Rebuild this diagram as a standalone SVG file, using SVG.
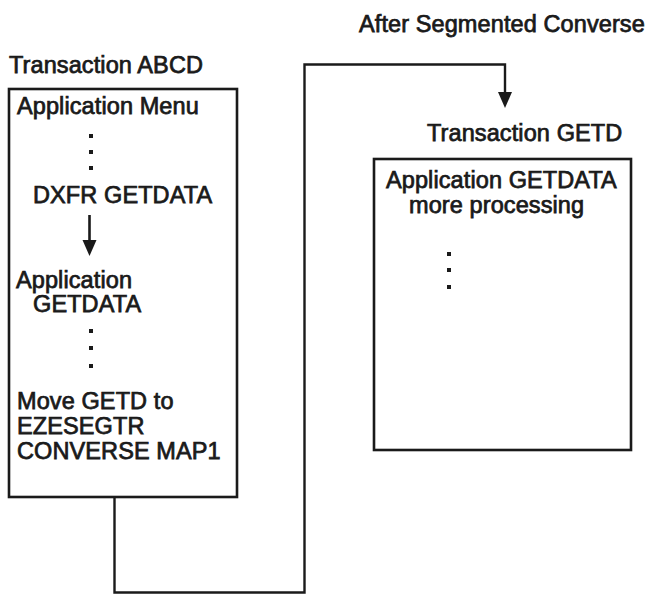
<svg xmlns="http://www.w3.org/2000/svg" width="651" height="595" viewBox="0 0 651 595">
  <style>
    .t { font-family: "Liberation Sans", Arial, sans-serif; font-size: 23.5px; fill: #1a1a1a; stroke: #1a1a1a; stroke-width: 0.75; letter-spacing: 0.1px; }
    .box { fill: none; stroke: #1a1a1a; stroke-width: 2.6; }
    .wire { fill: none; stroke: #1a1a1a; stroke-width: 2.4; }
    .dot { fill: #1a1a1a; }
  </style>

  <!-- caption over the second transaction -->
  <text class="t" x="359" y="32">After Segmented Converse</text>

  <!-- Transaction ABCD -->
  <g id="transaction-abcd">
    <text class="t" x="9" y="73">Transaction ABCD</text>
    <rect class="box" x="9" y="89" width="228" height="408"/>
    <text class="t" x="17" y="114">Application Menu</text>
    <rect class="dot" x="89" y="134" width="4" height="4"/>
    <rect class="dot" x="89" y="150" width="4" height="4"/>
    <rect class="dot" x="89" y="166" width="4" height="4"/>
    <text class="t" x="33" y="203">DXFR GETDATA</text>
    <path d="M89.5,215 L89.5,241" stroke="#1a1a1a" stroke-width="2.6" fill="none"/>
    <path d="M82.5,240 L96.5,240 L89.5,256 Z" fill="#1a1a1a"/>
    <text class="t" x="16" y="288">Application</text>
    <text class="t" x="33" y="312">GETDATA</text>
    <rect class="dot" x="89" y="329" width="4" height="4"/>
    <rect class="dot" x="89" y="346" width="4" height="4"/>
    <rect class="dot" x="89" y="364" width="4" height="4"/>
    <text class="t" x="17" y="409">Move GETD to</text>
    <text class="t" x="17" y="434">EZESEGTR</text>
    <text class="t" x="17" y="459">CONVERSE MAP1</text>
  </g>

  <!-- Transaction GETD -->
  <g id="transaction-getd">
    <text class="t" x="427" y="141">Transaction GETD</text>
    <rect class="box" x="374" y="159" width="257" height="291"/>
    <text class="t" x="386" y="188">Application GETDATA</text>
    <text class="t" x="409" y="213">more processing</text>
    <rect class="dot" x="447" y="252" width="4" height="4"/>
    <rect class="dot" x="447" y="268" width="4" height="4"/>
    <rect class="dot" x="447" y="285" width="4" height="4"/>
  </g>

  <!-- transfer path from ABCD to GETD -->
  <g id="connectors">
    <path class="wire" d="M114.5,497 L114.5,592.5 L304.5,592.5 L304.5,64.5 L505,64.5 L505,93"/>
    <path d="M498,92 L512,92 L505,108 Z" fill="#1a1a1a"/>
  </g>
</svg>
